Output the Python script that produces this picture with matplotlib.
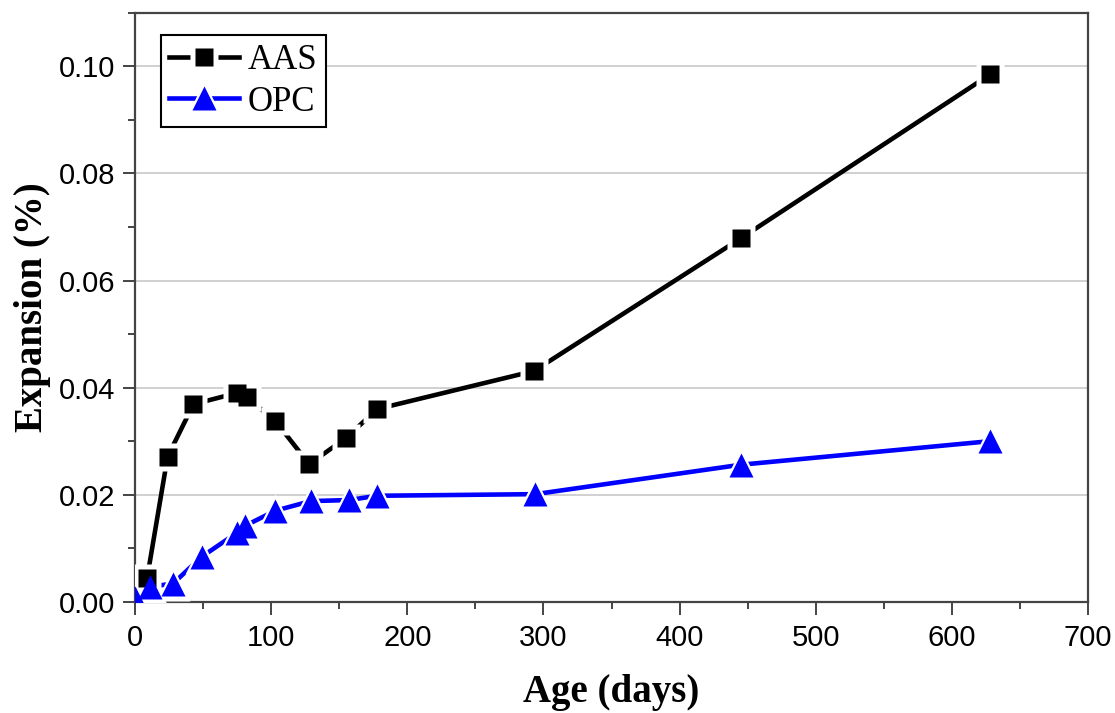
import matplotlib
matplotlib.use('Agg')
import matplotlib.pyplot as plt
from matplotlib.ticker import MultipleLocator

# data
aas_days = [9, 24, 43, 75, 82, 103, 128, 155, 178, 293, 445, 628]
aas_exp = [0.0045, 0.0271, 0.0369, 0.0390, 0.0382, 0.0338, 0.0257, 0.0306, 0.0360, 0.0431, 0.0679, 0.0985]
opc_days = [0, 11, 28, 49, 75, 81, 103, 129, 157, 178, 294, 445, 628]
opc_exp = [0.0007, 0.0028, 0.0034, 0.0084, 0.0129, 0.0142, 0.0170, 0.0188, 0.0190, 0.0198, 0.0201, 0.0256, 0.0300]

fig = plt.figure(figsize=(11.15, 7.13), dpi=100)
ax = fig.add_axes([0.121, 0.156, 0.855, 0.826])

spine_c = '#444444'

def series(x, y, color, marker, ms, halo):
    # line, then white halo so the line stops short of the markers, then marker
    ln, = ax.plot(x, y, '-', color=color, lw=3.3, zorder=2)
    hl, = ax.plot(x, y, linestyle='none', marker=marker, ms=ms + halo,
                  mfc='white', mec='none', zorder=3)
    mk, = ax.plot(x, y, linestyle='none', marker=marker, ms=ms,
                  mfc=color, mec='none', zorder=4)
    return (ln, hl, mk)

h_aas = series(aas_days, aas_exp, 'black', 's', 12.5, 7)
h_opc = series(opc_days, opc_exp, '#0000ff', '^', 17, 8)

ax.set_xlim(0, 700)
ax.set_ylim(0, 0.11)
ax.xaxis.set_major_locator(MultipleLocator(100))
ax.xaxis.set_minor_locator(MultipleLocator(50))
ax.yaxis.set_major_locator(MultipleLocator(0.02))
ax.yaxis.set_minor_locator(MultipleLocator(0.01))
ax.yaxis.set_major_formatter(matplotlib.ticker.FormatStrFormatter('%.2f'))

ax.grid(axis='y', which='major', color='#c8c8c8', lw=1.2, zorder=0)
ax.set_axisbelow(True)

for s in ax.spines.values():
    s.set_color(spine_c)
    s.set_linewidth(1.6)

ax.tick_params(which='major', direction='out', length=9, width=1.4, color=spine_c,
               top=False, right=False)
ax.tick_params(which='minor', direction='out', length=5, width=1.4, color=spine_c,
               top=False, right=False)
ax.tick_params(axis='y', labelsize=21, pad=5)
ax.tick_params(axis='x', labelsize=21, pad=7)
for lab in ax.get_yticklabels():
    lab.set_family(['Liberation Sans', 'DejaVu Sans'])
for lab in ax.get_xticklabels():
    lab.set_family(['Liberation Sans Narrow', 'Liberation Sans', 'DejaVu Sans'])

ax.set_xlabel('Age (days)', family=['Liberation Serif', 'DejaVu Serif'],
              fontweight='bold', fontsize=28, labelpad=16)
ax.set_ylabel('Expansion (%)', family=['Liberation Serif', 'DejaVu Serif'],
              fontweight='bold', fontsize=28, labelpad=6)

leg = ax.legend([h_aas, h_opc], ['AAS', 'OPC'], loc='upper left',
                bbox_to_anchor=(0.027, 0.962),
                prop={'family': ['Liberation Serif', 'DejaVu Serif'], 'size': 25},
                frameon=True, fancybox=False, edgecolor='black', framealpha=1,
                handlelength=2.0, handletextpad=0.25, borderpad=0.25,
                labelspacing=0.25, borderaxespad=0)
leg.get_frame().set_linewidth(1.5)

fig.savefig('out.png', dpi=100)
